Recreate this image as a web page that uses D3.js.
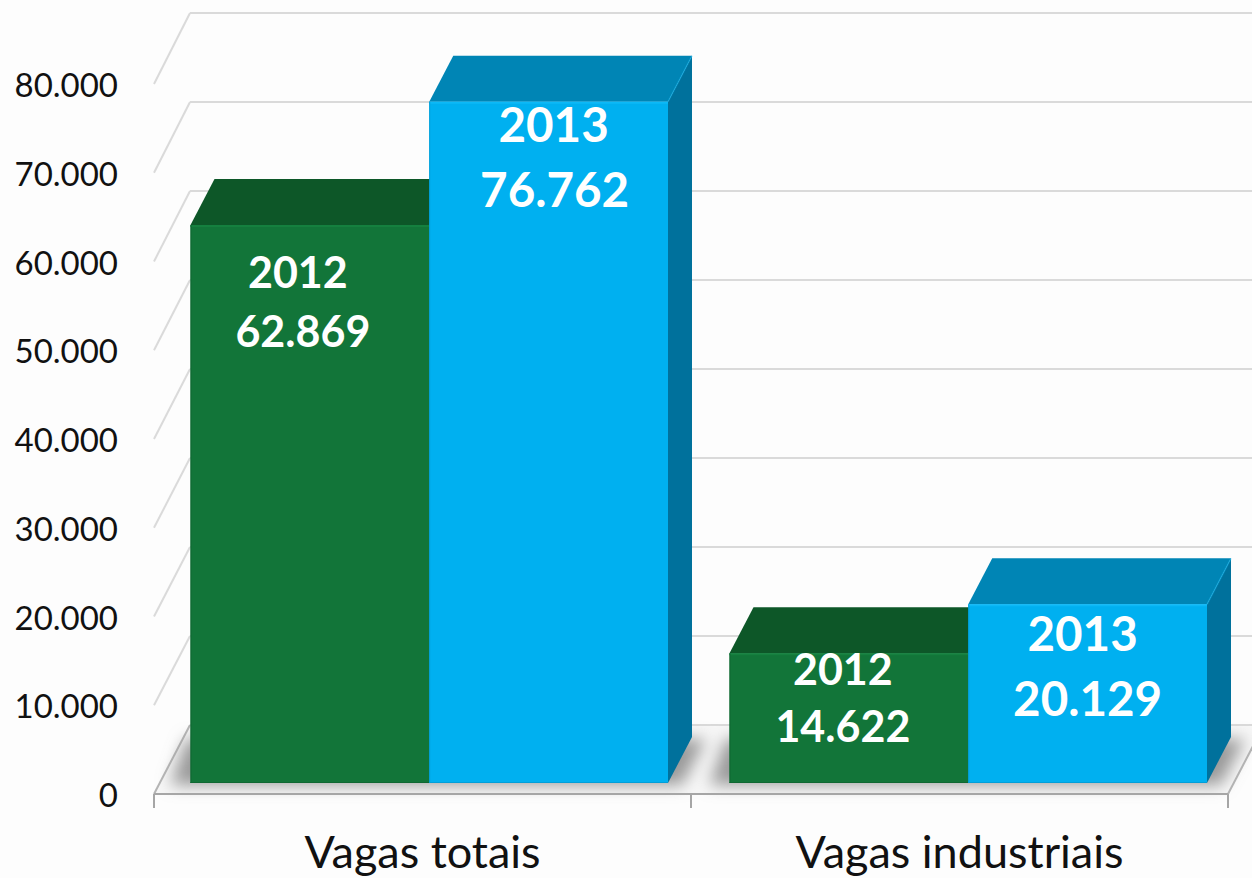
<!DOCTYPE html>
<html>
<head>
<meta charset="utf-8">
<script src="https://cdn.jsdelivr.net/npm/d3@7"></script>
<style>
  html, body { margin:0; padding:0; background:#fdfdfd; overflow:hidden; }
  svg { display:block; }
  text { font-family:Lato, "Open Sans", sans-serif; }
</style>
</head>
<body>
<svg id="chart" width="1252" height="878"></svg>
<script>
const categories = ["Vagas totais", "Vagas industriais"];
const years      = ["2012", "2013"];
const values2012 = [62869, 14622];
const values2013 = [76762, 20129];
const yTicks     = [0, 10000, 20000, 30000, 40000, 50000, 60000, 70000, 80000];

const W = 1252, H = 878;
const svg = d3.select("#chart");
const ptBR = d3.formatLocale({decimal:",", thousands:".", grouping:[3], currency:["",""]});
const fmt  = ptBR.format(",d");

/* --- 3d layout --- */
const depth = {dx:24, dy:-46};
const wall  = {dx:36, dy:-69};      // floor depth
const x     = d3.scaleBand(categories, [154, 1228]);       // axis bands
const xBars = d3.scaleBand(categories, [190, 1268]);       // bars sit on their own plane
const xS    = d3.scaleBand(years, [0.5, 478]);
const yFront = d3.scaleLinear([0, 80000], [783, 73]);    // bar front plane
const yAxis  = d3.scaleLinear([0, 80000], [794, 84]);    // left edge of side wall
const yBack  = d3.scaleLinear([0, 80000], [725, 13]);    // back wall

const colours = {
  "2012": {front:"#127539", top:"#0d5728", side:"#0b4c23", edge:"#0f6832", hi:"#15803f"},
  "2013": {front:"#00b0f0", top:"#0085b5", side:"#00719c", edge:"#009fd9", hi:"#0cb9f7"}
};

const poly = pts => pts.map(p => p.join(",")).join(" ");

const defs = svg.append("defs");
defs.append("filter").attr("id","shadow")
    .attr("x","-10%").attr("y","-50%").attr("width","120%").attr("height","200%")
  .append("feGaussianBlur").attr("stdDeviation",8);

/* --- floor and walls --- */
const x0 = x.range()[0], x1 = x.range()[1];
svg.append("polygon")
   .attr("points", poly([[x0,794],[x0+wall.dx,794+wall.dy],[x1+wall.dx,794+wall.dy],[x1,794]]))
   .attr("fill","#f7f7f7");

const grid = svg.append("g").attr("fill","none").attr("stroke","#dadada").attr("stroke-width",2);
grid.selectAll("line.back").data(yTicks).join("line")
    .attr("class","back")
    .attr("x1",x0+wall.dx).attr("x2",W+4)
    .attr("y1",d=>yBack(d)).attr("y2",d=>yBack(d));
grid.selectAll("line.side").data(yTicks).join("line")
    .attr("class","side")
    .attr("x1",x0).attr("x2",x0+wall.dx)
    .attr("y1",d=>yAxis(d)).attr("y2",d=>yBack(d))
    .attr("stroke",d=>d===0?"#b5b5b5":"#dadada");
svg.append("line")
   .attr("x1",x1).attr("y1",yAxis(0)).attr("x2",x1+wall.dx).attr("y2",yBack(0))
   .attr("stroke","#b5b5b5").attr("stroke-width",2);

/* --- floor shadows --- */
svg.append("g").attr("filter","url(#shadow)").attr("fill","#9a9a9a")
  .selectAll("polygon").data(categories).join("polygon")
    .attr("points", c => {
      const a = xBars(c)+xS("2012")-20, b = xBars(c)+xS("2013")+xS.bandwidth()+14;
      const y0 = yFront(0)+2;
      return poly([[a,y0],[b,y0],[b+depth.dx,y0+depth.dy],[a+depth.dx-8,y0+depth.dy]]);
    });

/* --- bottom axis --- */
const axisG = svg.append("g");
axisG.append("line")
   .attr("x1",x0).attr("x2",x1).attr("y1",yAxis(0)).attr("y2",yAxis(0))
   .attr("stroke","#a6a6a6").attr("stroke-width",2);
axisG.selectAll("line.tick").data([x0, x(categories[1]), x1]).join("line")
   .attr("class","tick")
   .attr("x1",d=>d).attr("x2",d=>d).attr("y1",yAxis(0)).attr("y2",yAxis(0)+14)
   .attr("stroke","#a6a6a6").attr("stroke-width",2);

/* --- bars --- */
const rows = categories.flatMap((c,i)=>[
  {cat:c, year:"2012", value:values2012[i]},
  {cat:c, year:"2013", value:values2013[i]}
]);

svg.append("g").selectAll("g").data(rows).join("g")
  .each(function(d){
    const g = d3.select(this), col = colours[d.year];
    const l = xBars(d.cat)+xS(d.year), r = l+xS.bandwidth();
    const t = yFront(d.value), b = yFront(0);
    // top
    g.append("polygon").attr("fill",col.top)
     .attr("points",poly([[l,t],[l+depth.dx,t+depth.dy],[r+depth.dx,t+depth.dy],[r,t]]));
    // side
    g.append("polygon").attr("fill",col.side)
     .attr("points",poly([[r,t],[r+depth.dx,t+depth.dy],[r+depth.dx,b+depth.dy],[r,b]]));
    // lighter ridge between top and side
    g.append("line").attr("x1",r).attr("y1",t).attr("x2",r+depth.dx).attr("y2",t+depth.dy)
     .attr("stroke",col.hi).attr("stroke-opacity",.45).attr("stroke-width",1.5);
    // front
    g.append("rect").attr("x",l).attr("y",t).attr("width",r-l).attr("height",b-t)
     .attr("fill",col.front);
    // bevel edges
    g.append("line").attr("x1",l).attr("x2",r).attr("y1",t+1).attr("y2",t+1)
     .attr("stroke",col.hi).attr("stroke-width",2);
    g.append("line").attr("x1",l+.5).attr("x2",l+.5).attr("y1",t).attr("y2",b)
     .attr("stroke",col.edge);
    g.append("line").attr("x1",l).attr("x2",r).attr("y1",b-.5).attr("y2",b-.5)
     .attr("stroke",col.edge);
  });

/* --- data labels (hand placed in the original) --- */
const labelNudge = {
  "Vagas totais|2012":      {size:43,   yr:[-12,63],  val:[-7,122]},
  "Vagas totais|2013":      {size:47.5, yr:[5,40],    val:[6,105]},
  "Vagas industriais|2012": {size:43,   yr:[-6,32],   val:[-6,89]},
  "Vagas industriais|2013": {size:47.5, yr:[-5,47],   val:[0,112]}
};
const labels = svg.append("g").attr("fill","#fff").attr("font-weight",700)
   .attr("text-anchor","middle");
rows.forEach(d => {
  const n = labelNudge[d.cat+"|"+d.year];
  const cx = xBars(d.cat)+xS(d.year)+xS.bandwidth()/2, t = yFront(d.value);
  labels.append("text").attr("x",cx+n.yr[0]).attr("y",t+n.yr[1]).attr("font-size",n.size).text(d.year);
  labels.append("text").attr("x",cx+n.val[0]).attr("y",t+n.val[1]).attr("font-size",n.size).text(fmt(d.value));
});

/* --- axis labels --- */
const left = svg.append("g").attr("transform","translate(118,2)")
  .call(d3.axisLeft(yAxis).tickValues(yTicks).tickFormat(fmt).tickSize(0).tickPadding(0));
left.select(".domain").remove();
left.selectAll("text").attr("font-size",33).attr("fill","#111").attr("font-family","Lato");

const bottom = svg.append("g").attr("transform","translate(0,830)")
  .call(d3.axisBottom(x).tickSize(0).tickPadding(0));
bottom.select(".domain").remove();
bottom.selectAll("text").attr("font-size",45).attr("fill","#111").attr("font-family","Lato")
   .attr("dy",null).attr("y",38);
</script>
</body>
</html>
